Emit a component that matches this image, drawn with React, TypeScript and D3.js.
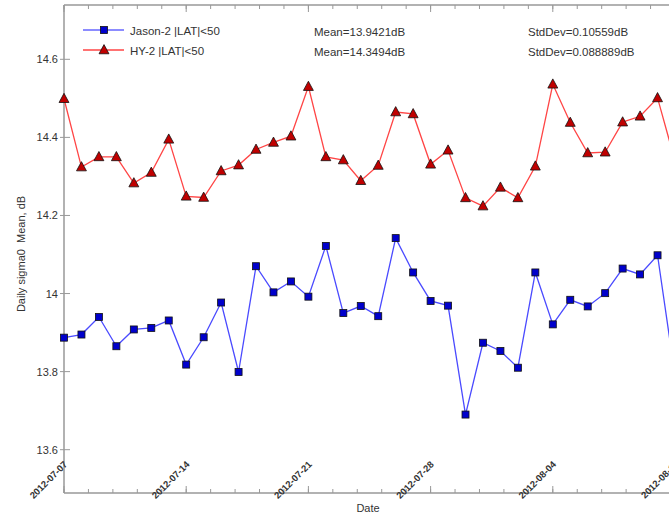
import React from "react";
import * as d3 from "d3";

const startDate = "2012-07-07";
const endDate = "2012-08-11";
const xTickLabels = ["2012-07-07", "2012-07-14", "2012-07-21", "2012-07-28", "2012-08-04", "2012-08-11"];
const yTicks = [13.6, 13.8, 14.0, 14.2, 14.4, 14.6];
const yTickLabels = ["13.6", "13.8", "14", "14.2", "14.4", "14.6"];

const jasonValues = [
  13.887, 13.895, 13.94, 13.865, 13.908, 13.912, 13.931, 13.818, 13.888, 13.977,
  13.799, 14.07, 14.003, 14.031, 13.992, 14.122, 13.95, 13.968, 13.942, 14.142,
  14.054, 13.981, 13.969, 13.69, 13.874, 13.853, 13.81, 14.054, 13.921, 13.984,
  13.967, 14.001, 14.064, 14.049, 14.098, 13.79,
];
const hy2Values = [
  14.499, 14.324, 14.35, 14.35, 14.283, 14.31, 14.395, 14.249, 14.246, 14.314,
  14.329, 14.369, 14.387, 14.403, 14.53, 14.35, 14.342, 14.289, 14.328, 14.465,
  14.46, 14.331, 14.367, 14.245, 14.224, 14.272, 14.245, 14.326, 14.536, 14.438,
  14.36, 14.362, 14.439, 14.454, 14.501, 14.34,
];
const seriesNames = ["Jason-2 |LAT|<50", "HY-2 |LAT|<50"];
const meanTexts = ["Mean=13.9421dB", "Mean=14.3494dB"];
const stdTexts = ["StdDev=0.10559dB", "StdDev=0.088889dB"];

const W = 669;
const H = 516;
const left = 64;
const right = 675;
const top = 5;
const bottom = 493;
const font = "'Liberation Sans', Arial, Helvetica, sans-serif";
const axisColor = "#999";
const textColor = "#333";

export default function App() {
  const t0 = new Date(startDate + "T00:00:00Z");
  const t1 = new Date(endDate + "T00:00:00Z");
  const x = d3.scaleUtc().domain([t0, t1]).range([left, right]);
  const y = d3.scaleLinear().domain([13.6, 14.6]).range([449.7, 59.3]);
  const day = 86400000;
  const dates = jasonValues.map((_, i) => new Date(t0.getTime() + i * day));

  const line = d3
    .line<number>()
    .x((_, i) => x(dates[i]))
    .y((d) => y(d));

  const majorTicks = xTickLabels.map((s) => new Date(s + "T00:00:00Z"));
  const minorTicks = d3.range(0, 35.0001, 1.4).map((d) => new Date(t0.getTime() + d * day));

  const sq = 7;
  const tri = (cx: number, cy: number, s: number) =>
    `M${cx},${cy - s * 0.6}L${cx + s * 0.55},${cy + s * 0.42}L${cx - s * 0.55},${cy + s * 0.42}Z`;

  const blueLine = "#4a4aff";
  const redLine = "#ff4545";
  const blueFill = "#0000cc";
  const redFill = "#c00000";

  return (
    <svg width={W} height={H} style={{ position: "absolute", left: 0, top: 0, background: "#fff" }} fontFamily={font}>
      <rect x={0} y={0} width={W} height={H} fill="#fff" />
      <line x1={left} x2={W + 10} y1={top} y2={top} stroke={axisColor} strokeWidth={1.5} />
      <line x1={left} x2={W + 10} y1={bottom} y2={bottom} stroke={axisColor} strokeWidth={1.5} />
      <line x1={left} x2={left} y1={top} y2={bottom} stroke={axisColor} strokeWidth={1.5} />
      {minorTicks.map((d, i) => (
        <g key={"mt" + i}>
          <line x1={x(d)} x2={x(d)} y1={bottom} y2={bottom - 4} stroke={axisColor} />
          <line x1={x(d)} x2={x(d)} y1={top} y2={top + 4} stroke={axisColor} />
        </g>
      ))}
      {majorTicks.map((d, i) => (
        <g key={"Mt" + i}>
          <line x1={x(d)} x2={x(d)} y1={bottom} y2={bottom - 7} stroke={axisColor} />
          <line x1={x(d)} x2={x(d)} y1={top} y2={top + 7} stroke={axisColor} />
          <text
            transform={`translate(${x(d) + 4},${465}) rotate(-45)`}
            textAnchor="end"
            fontSize={9.5}
            fontWeight="bold"
            fill={textColor}
          >
            {xTickLabels[i]}
          </text>
        </g>
      ))}
      {yTicks.map((v, i) => (
        <g key={"yt" + i}>
          <line x1={left - 4} x2={left + 6} y1={y(v)} y2={y(v)} stroke={axisColor} />
          <text x={left - 6} y={y(v) + 4} textAnchor="end" fontSize={11} fill={textColor}>
            {yTickLabels[i]}
          </text>
        </g>
      ))}
      <text x={368} y={512} textAnchor="middle" fontSize={11} fill={textColor}>
        Date
      </text>
      <text transform={`translate(25,254) rotate(-90)`} textAnchor="middle" fontSize={11} fill={textColor}>
        {"Daily sigma0\u00a0 Mean, dB"}
      </text>
      <path d={line(jasonValues) || ""} fill="none" stroke={blueLine} strokeWidth={1.3} />
      <path d={line(hy2Values) || ""} fill="none" stroke={redLine} strokeWidth={1.3} />
      {jasonValues.map((v, i) => (
        <rect
          key={"j" + i}
          x={x(dates[i]) - sq / 2}
          y={y(v) - sq / 2}
          width={sq}
          height={sq}
          fill={blueFill}
          stroke="#111"
          strokeWidth={0.8}
        />
      ))}
      {hy2Values.map((v, i) => (
        <path key={"h" + i} d={tri(x(dates[i]), y(v), 9)} fill={redFill} stroke="#111" strokeWidth={0.8} />
      ))}
      <line x1={83} x2={124} y1={30} y2={30} stroke="#8c8cff" strokeWidth={2} />
      <rect x={104 - sq / 2} y={30 - sq / 2} width={sq} height={sq} fill={blueFill} stroke="#111" strokeWidth={0.8} />
      <line x1={83} x2={124} y1={50} y2={50} stroke={redLine} strokeWidth={1.5} />
      <path d={tri(104, 50, 9)} fill={redFill} stroke="#111" strokeWidth={0.8} />
      <text x={130} y={34.5} fontSize={11.5} fill={textColor}>
        {seriesNames[0]}
      </text>
      <text x={130} y={54.5} fontSize={11.5} fill={textColor}>
        {seriesNames[1]}
      </text>
      <text x={314} y={36} fontSize={11.5} fill={textColor}>
        {meanTexts[0]}
      </text>
      <text x={314} y={56} fontSize={11.5} fill={textColor}>
        {meanTexts[1]}
      </text>
      <text x={528} y={36} fontSize={11.5} fill={textColor}>
        {stdTexts[0]}
      </text>
      <text x={528} y={56} fontSize={11.5} fill={textColor}>
        {stdTexts[1]}
      </text>
    </svg>
  );
}
